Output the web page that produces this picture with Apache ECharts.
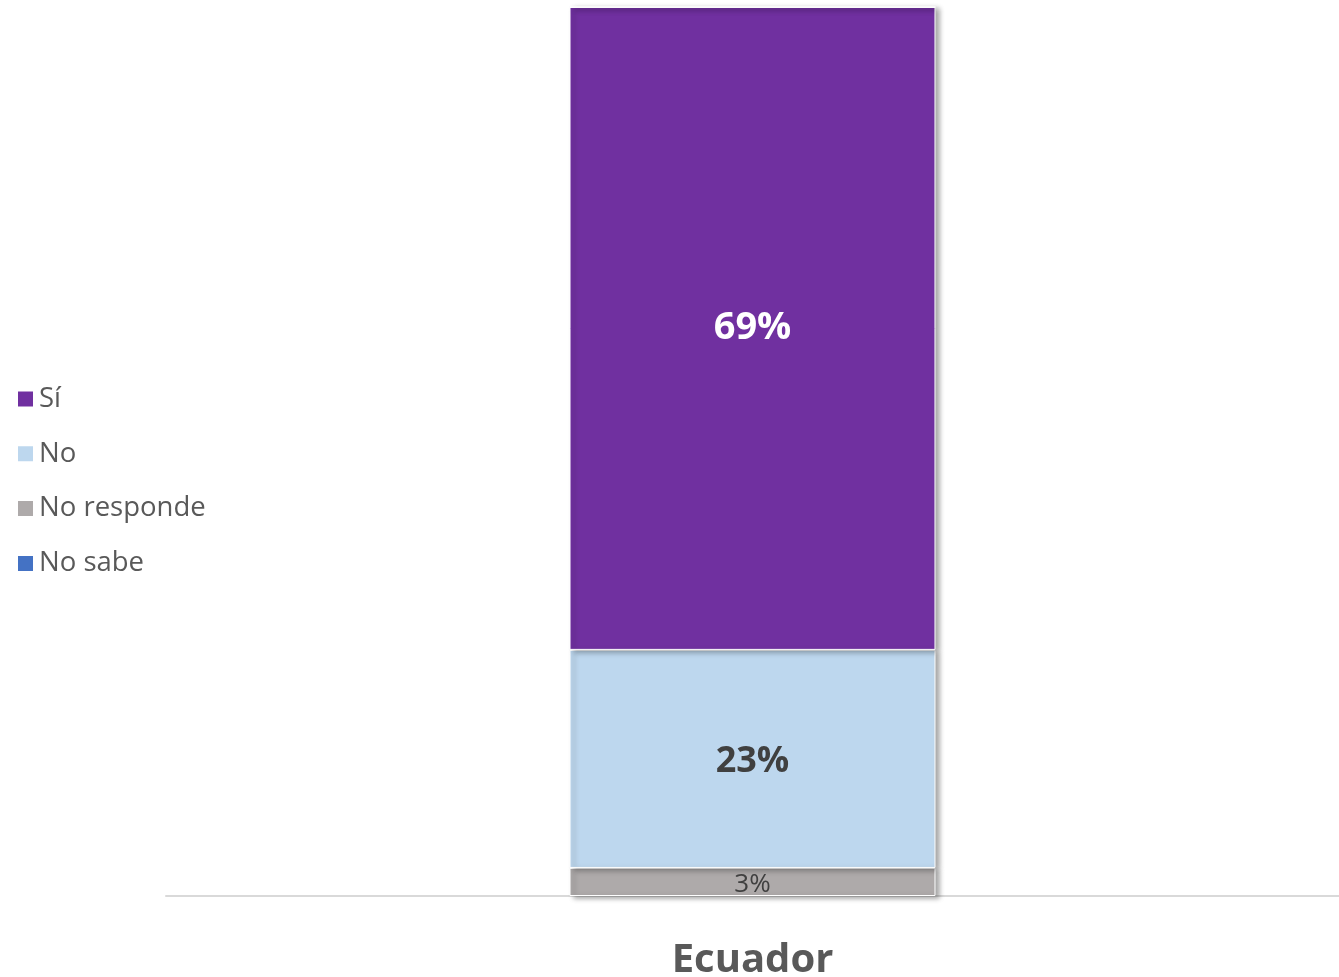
<!DOCTYPE html>
<html>
<head>
<meta charset="utf-8">
<script src="https://cdn.jsdelivr.net/npm/echarts@6/dist/echarts.min.js"></script>
<style>
html,body{margin:0;padding:0;background:#fff;}
#chart{width:1339px;height:977px;}
</style>
</head>
<body>
<div id="chart"></div>
<script>
const categories = ['Ecuador'];
const legendOrder = ['Sí', 'No', 'No responde', 'No sabe'];
const valuesNoResponde = [3.0];
const valuesNo = [23.3];
const valuesSi = [68.7];
const valuesNoSabe = [0];
const colors = { 'Sí': '#7030a0', 'No': '#bdd7ee', 'No responde': '#aeaaaa', 'No sabe': '#4472c4' };

const fontFam = '"Open Sans", "Noto Sans", sans-serif';
const shadow = { shadowBlur: 5, shadowOffsetX: 4, shadowOffsetY: 2, shadowColor: 'rgba(0,0,0,0.35)' };

function mkSeries(name, data, labelStyle) {
  return {
    name: name,
    type: 'bar',
    stack: 'total',
    data: data,
    barWidth: '31.2%',
    itemStyle: Object.assign({ color: colors[name], borderColor: '#ffffff', borderWidth: 1 }, shadow),
    label: Object.assign({
      show: true,
      position: 'inside',
      fontFamily: fontFam,
      formatter: p => p.value > 0 ? Math.round(p.value) + '%' : ''
    }, labelStyle)
  };
}

const chart = echarts.init(document.getElementById('chart'), null, { renderer: 'canvas' });
chart.setOption({
  animation: false,
  backgroundColor: '#ffffff',
  grid: { left: 166, right: 0, top: 7, bottom: 81, containLabel: false, outerBoundsMode: 'none' },
  legend: {
    data: legendOrder,
    orient: 'vertical',
    left: 16,
    top: 384,
    padding: 0,
    itemWidth: 17,
    itemHeight: 17,
    itemGap: 24.8,
    itemTextGap: 14,
    icon: 'rect',
    textStyle: { fontSize: 27.5, color: '#595959', fontFamily: fontFam, lineHeight: 30 }
  },
  xAxis: {
    type: 'category',
    data: categories,
    axisLine: { lineStyle: { color: '#d9d9d9', width: 2 } },
    axisTick: { show: false },
    axisLabel: { fontSize: 40, fontWeight: 'bold', color: '#595959', fontFamily: fontFam, margin: 45 }
  },
  yAxis: {
    type: 'value',
    min: 0,
    max: 95,
    show: false,
    splitLine: { show: false }
  },
  series: [
    mkSeries('No responde', valuesNoResponde, { fontSize: 26, color: '#404040', offset: [0, 3] }),
    mkSeries('No', valuesNo, { fontSize: 36, fontWeight: 'bold', color: '#404040', offset: [0, 3] }),
    mkSeries('Sí', valuesSi, { fontSize: 38, fontWeight: 'bold', color: '#ffffff' }),
    mkSeries('No sabe', valuesNoSabe, { fontSize: 24, color: '#404040' })
  ]
});
</script>
</body>
</html>
